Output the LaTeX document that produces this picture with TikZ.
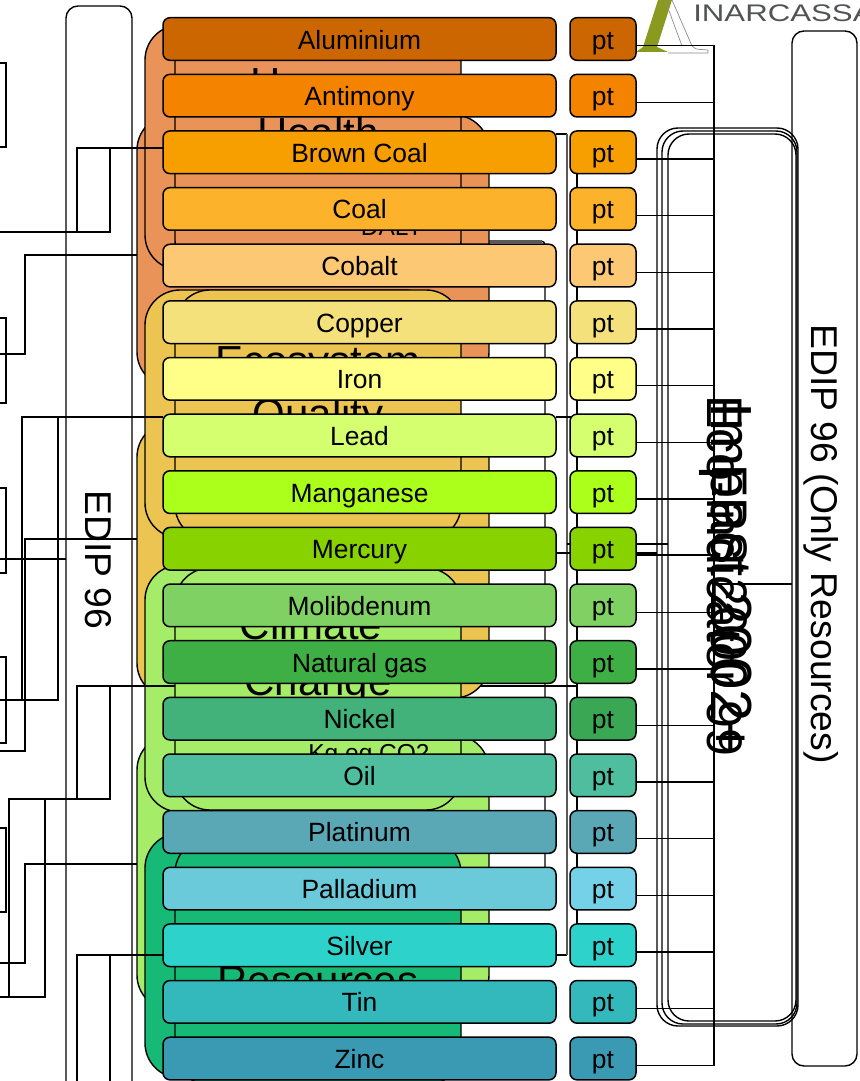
\documentclass[tikz,border=0pt]{standalone}
\usepackage{fontspec}
\setmainfont{Liberation Sans}
\usepackage{xcolor}
\usetikzlibrary{positioning, backgrounds}
\definecolor{humanfill}{HTML}{E99358}
\definecolor{ecofill}{HTML}{ECC452}
\definecolor{climatefill}{HTML}{A5EC68}
\definecolor{resfill}{HTML}{16BA76}
\definecolor{logoolive}{HTML}{8A9A1E}
\definecolor{logotext}{HTML}{525355}
\tikzset{
  link/.style={draw=black, line width=1.4pt},
  tallbox/.style={
    rectangle, rounded corners=12pt, draw=black, line width=1.4pt,
    inner sep=0pt, outer sep=0pt
  },
  methodbox/.style={tallbox, rounded corners=21pt},
  groupbox/.style={tallbox, rounded corners=35pt},
  bigtext/.style={anchor=base, inner sep=0pt, font=\fontsize{42}{50}\selectfont},
  unittext/.style={anchor=base, inner sep=0pt, font=\fontsize{24.5}{30}\selectfont},
  sidetext/.style={anchor=base, inner sep=0pt, rotate=-90, font=\fontsize{37.3}{44}\selectfont},
  labelblock/.style={
    rectangle, rounded corners=7pt, draw=black, line width=1.5pt,
    minimum width=393pt, minimum height=42.64pt, inner sep=0pt, outer sep=0pt,
    text height=22pt, text depth=2pt, font=\fontsize{26.4}{30}\selectfont
  },
  ptblock/.style={labelblock, minimum width=66pt}
}

\begin{document}
\begin{tikzpicture}[x=1pt, y=-1pt, node distance=14pt]
  \clip (0,0) rectangle (859,1081);

  % Logo
  \fill[logoolive] (658,0) -- (672,0) -- (657,47) -- (668,52) -- (636,52) -- (643,47) -- cycle;
  \draw[black!45, line width=0.7pt] (665,0) -- (682,46) (672,0) -- (692,46) .. controls (694,49) .. (708,50) -- (708,53) -- (668,53);
  \node[anchor=base west, inner sep=0pt, xscale=1.3, text=logotext, font=\fontsize{24}{28}\selectfont] (logoname) at (693,22) {INARCASSA};

  % Tall outlines
  \node[tallbox, minimum width=66pt, minimum height=1108pt] (edipAll) at (99,560) {};
  \node[tallbox, minimum width=65pt, minimum height=1035pt] (edipRes) at (824.5,548.5) {};
  \node[methodbox, minimum width=141pt, minimum height=898pt] (ecoBox) at (727.5,577) {};
  \node[methodbox, minimum width=135pt, minimum height=893pt] (impactBox) at (729.5,577.5) {};
  \node[methodbox, minimum width=128pt, minimum height=887pt] (epsBox) at (732,577.5) {};
  \node[tallbox, rounded corners=4pt, minimum width=145pt, minimum height=649pt] (metricBox) at (472.5,565.5) {};
  \draw[black!65, line width=3pt, shorten >=3pt] (metricBox.north west) -- (metricBox.north east);

  % Human Health
  \node[groupbox, fill=humanfill, minimum width=352pt, minimum height=272pt] (humanR) at (313,251) {};
  \node[groupbox, fill=humanfill, minimum width=295pt, minimum height=245pt] (humanP) at (292.5,147.5) {};
  \node[groupbox, fill=humanfill, minimum width=286pt, minimum height=250pt] (humanQ) at (318,150) {};
  \node[bigtext] (humanA) at (318,97) {Human};
  \node[bigtext] (humanB) at (318,147) {Health};
  \node[unittext] (humanU) at (392,235) {DALY};

  % Ecosystem Quality
  \node[groupbox, fill=ecofill, minimum width=352pt, minimum height=276pt] (ecoR) at (313,560) {};
  \node[groupbox, fill=ecofill, minimum width=295pt, minimum height=248pt] (ecoP) at (292.5,414) {};
  \node[groupbox, fill=ecofill, minimum width=286pt, minimum height=250pt] (ecoQ) at (318,415) {};
  \node[bigtext] (ecoA) at (318,375) {Ecosystem};
  \node[bigtext] (ecoB) at (318,428) {Quality};

  % Climate Change
  \node[groupbox, fill=climatefill, minimum width=352pt, minimum height=275pt] (climateR) at (313,872.5) {};
  \node[groupbox, fill=climatefill, minimum width=295pt, minimum height=247pt] (climateP) at (292.5,688.5) {};
  \node[groupbox, fill=climatefill, minimum width=286pt, minimum height=242pt] (climateQ) at (318,689) {};
  \node[bigtext] (climateA) at (311,639) {Climate};
  \node[bigtext] (climateB) at (318,695) {Change};
  \node[unittext] (climateU) at (369,761) {Kg eq CO2};

  % Resources
  \node[groupbox, fill=resfill, minimum width=295pt, minimum height=245pt] (resP) at (292.5,955.5) {};
  \node[groupbox, fill=resfill, minimum width=286pt, minimum height=247pt] (resQ) at (318,961.5) {};
  \node[bigtext] (resA) at (318,995) {Resources};

  % Names
  \node[labelblock, fill={rgb,255:red,204;green,102;blue,0}] (lbAl) at (359.5,39) {Aluminium};
  \node[labelblock, below=of lbAl, fill={rgb,255:red,244;green,131;blue,0}] (lbSb) {Antimony};
  \node[labelblock, below=of lbSb, fill={rgb,255:red,247;green,159;blue,0}] (lbBc) {Brown Coal};
  \node[labelblock, below=of lbBc, fill={rgb,255:red,253;green,178;blue,43}] (lbCo) {Coal};
  \node[labelblock, below=of lbCo, fill={rgb,255:red,253;green,200;blue,115}] (lbCb) {Cobalt};
  \node[labelblock, below=of lbCb, fill={rgb,255:red,245;green,225;blue,124}] (lbCu) {Copper};
  \node[labelblock, below=of lbCu, fill={rgb,255:red,255;green,255;blue,136}] (lbFe) {Iron};
  \node[labelblock, below=of lbFe, fill={rgb,255:red,213;green,255;blue,110}] (lbPb) {Lead};
  \node[labelblock, below=of lbPb, fill={rgb,255:red,171;green,255;blue,26}] (lbMn) {Manganese};
  \node[labelblock, below=of lbMn, fill={rgb,255:red,136;green,210;blue,0}] (lbHg) {Mercury};
  \node[labelblock, below=of lbHg, fill={rgb,255:red,127;green,209;blue,99}] (lbMo) {Molibdenum};
  \node[labelblock, below=of lbMo, fill={rgb,255:red,62;green,175;blue,69}] (lbGas) {Natural gas};
  \node[labelblock, below=of lbGas, fill={rgb,255:red,66;green,178;blue,122}] (lbNi) {Nickel};
  \node[labelblock, below=of lbNi, fill={rgb,255:red,79;green,190;blue,159}] (lbOil) {Oil};
  \node[labelblock, below=of lbOil, fill={rgb,255:red,90;green,167;blue,181}] (lbPt) {Platinum};
  \node[labelblock, below=of lbPt, fill={rgb,255:red,107;green,202;blue,217}] (lbPd) {Palladium};
  \node[labelblock, below=of lbPd, fill={rgb,255:red,45;green,211;blue,203}] (lbAg) {Silver};
  \node[labelblock, below=of lbAg, fill={rgb,255:red,51;green,185;blue,188}] (lbSn) {Tin};
  \node[labelblock, below=of lbSn, fill={rgb,255:red,58;green,154;blue,179}] (lbZn) {Zinc};

  % Units
  \node[ptblock, right=of lbAl, fill={rgb,255:red,204;green,102;blue,0}] (ptAl) {pt};
  \node[ptblock, right=of lbSb, fill={rgb,255:red,244;green,131;blue,0}] (ptSb) {pt};
  \node[ptblock, right=of lbBc, fill={rgb,255:red,247;green,159;blue,0}] (ptBc) {pt};
  \node[ptblock, right=of lbCo, fill={rgb,255:red,253;green,178;blue,43}] (ptCo) {pt};
  \node[ptblock, right=of lbCb, fill={rgb,255:red,253;green,200;blue,115}] (ptCb) {pt};
  \node[ptblock, right=of lbCu, fill={rgb,255:red,245;green,225;blue,124}] (ptCu) {pt};
  \node[ptblock, right=of lbFe, fill={rgb,255:red,255;green,255;blue,136}] (ptFe) {pt};
  \node[ptblock, right=of lbPb, fill={rgb,255:red,213;green,255;blue,110}] (ptPb) {pt};
  \node[ptblock, right=of lbMn, fill={rgb,255:red,171;green,255;blue,26}] (ptMn) {pt};
  \node[ptblock, right=of lbHg, fill={rgb,255:red,136;green,210;blue,0}] (ptHg) {pt};
  \node[ptblock, right=of lbMo, fill={rgb,255:red,127;green,209;blue,99}] (ptMo) {pt};
  \node[ptblock, right=of lbGas, fill={rgb,255:red,62;green,175;blue,69}] (ptGas) {pt};
  \node[ptblock, right=of lbNi, fill={rgb,255:red,58;green,167;blue,85}] (ptNi) {pt};
  \node[ptblock, right=of lbOil, fill={rgb,255:red,79;green,190;blue,159}] (ptOil) {pt};
  \node[ptblock, right=of lbPt, fill={rgb,255:red,90;green,167;blue,181}] (ptPt) {pt};
  \node[ptblock, right=of lbPd, fill={rgb,255:red,117;green,209;blue,232}] (ptPd) {pt};
  \node[ptblock, right=of lbAg, fill={rgb,255:red,45;green,211;blue,203}] (ptAg) {pt};
  \node[ptblock, right=of lbSn, fill={rgb,255:red,51;green,185;blue,188}] (ptSn) {pt};
  \node[ptblock, right=of lbZn, fill={rgb,255:red,58;green,154;blue,179}] (ptZn) {pt};

  % Free ends on the left
  \coordinate (a0) at (0,232);
  \coordinate (a1) at (77,148);
  \coordinate (a2) at (110,148);
  \coordinate (b0) at (0,354);
  \coordinate (b1) at (25,255);
  \coordinate (c0) at (0,700);
  \coordinate (c1) at (22,417);
  \coordinate (c2) at (58,417);
  \coordinate (d0) at (0,751);
  \coordinate (d1) at (25,539);
  \coordinate (e0) at (0,997);
  \coordinate (e1) at (9,799);
  \coordinate (e2) at (45,799);
  \coordinate (e3) at (77,686);
  \coordinate (e4) at (110,686);
  \coordinate (f0) at (0,963);
  \coordinate (f1) at (25,864);
  \coordinate (g1) at (77,955);
  \coordinate (g2) at (110,955);
  \coordinate (g0) at (0,1090);

  % Brackets at the border
  \draw[link] (0,63) -- (6,63) -- (6,147) -- (0,147);
  \draw[link] (0,318) -- (6,318) -- (6,403) -- (0,403);
  \draw[link] (0,488) -- (6,488) -- (6,573) -- (0,573);
  \draw[link] (0,657) -- (6,657) -- (6,743) -- (0,743);
  \draw[link] (0,828) -- (6,828) -- (6,912) -- (0,912);

  \draw[link] (a0) -| (a1) -- (a2) |- (a0);
  \draw[link] (a2) -- (lbBc.west |- a2);
  \draw[link] (b0) -| (b1) -- (humanR.west |- b1);
  \draw[link] (c0) -| (c1) -- (c2) |- (c0);
  \draw[link] (c2) -- (lbPb.west |- c2);
  \draw[link] (d0) -| (d1) -- (ecoR.west |- d1);
  \draw[link] (0,559) -- (edipAll.west |- 0,559);
  \draw[link] (e0) -| (e1) -- (e2) |- (e0);
  \draw[link] (e1) -- (e4 |- e1) -- (e4) -- (e3) -- (e3 |- e1);
  \draw[link] (e4) -- (climateQ.west |- e4);
  \draw[link] (f0) -| (f1) -- (climateR.west |- f1);
  \draw[link] (g1 |- g0) -- (g1) -- (g2) -- (g2 |- g0);
  \draw[link] (g2) -- (lbAg.west |- g2);

  % Connectors under the rows
  \coordinate (coreA) at (566.5,134);
  \coordinate (coreB) at (566.5,955);
  \coordinate (feedA) at (577,160);
  \coordinate (feedB) at (577,940);
  \coordinate (feedC) at (461,686);
  \begin{scope}[on background layer]
    \draw[link] (lbBc.east |- coreA) -- (coreA);
    \draw[link] (lbAg.east |- coreB) -- (coreB);
    \draw[black!65, line width=2pt] (coreA) -- (coreB);
    \draw[link] (feedA) -- (feedB);
    \draw[link] (feedC) -- (feedA |- feedC);
    \draw[link] (lbPb.east |- 0,417) -- (feedA |- 0,417);
    \draw[link] (coreA |- 0,544) -- (epsBox.west |- 0,544);
    \draw[link] (lbHg.east |- 0,553) -- (ecoBox.west |- 0,553);
  \end{scope}

  % Bus to the right
  \draw[link] ([yshift=-6.8pt]ptAl.east) -| ([yshift=-6.8pt, xshift=78pt]ptZn.east) -- ([yshift=-6.8pt]ptZn.east);
  \draw[link] ([yshift=-6.8pt]ptSb.east) -- ++(78,0);
  \draw[link] ([yshift=-6.8pt]ptBc.east) -- ++(78,0);
  \draw[link] ([yshift=-6.8pt]ptCo.east) -- ++(78,0);
  \draw[link] ([yshift=-6.8pt]ptCb.east) -- ++(78,0);
  \draw[link] ([yshift=-6.8pt]ptCu.east) -- ++(78,0);
  \draw[link] ([yshift=-6.8pt]ptFe.east) -- ++(78,0);
  \draw[link] ([yshift=-6.8pt]ptPb.east) -- ++(78,0);
  \draw[link] ([yshift=-6.8pt]ptMn.east) -- ++(78,0);
  \draw[link] ([yshift=-6.2pt]ptHg.east) -- ++(78,0);
  \draw[link] ([yshift=-6.8pt]ptMo.east) -- ++(78,0);
  \draw[link] ([yshift=-6.8pt]ptGas.east) -- ++(78,0);
  \draw[link] ([yshift=-6.8pt]ptNi.east) -- ++(78,0);
  \draw[link] ([yshift=-6.8pt]ptOil.east) -- ++(78,0);
  \draw[link] ([yshift=-6.8pt]ptPt.east) -- ++(78,0);
  \draw[link] ([yshift=-6.8pt]ptPd.east) -- ++(78,0);
  \draw[link] ([yshift=-6.8pt]ptAg.east) -- ++(78,0);
  \draw[link] ([yshift=-6.8pt]ptSn.east) -- ++(78,0);
  \draw[link] (714,584) -- (edipRes.west |- 714,584);

  % Method names
  \node[sidetext] (edipAllName) at (85,560) {EDIP 96};
  \node[sidetext] (edipResName) at (811,544) {EDIP 96 (Only Resources)};
  \node[sidetext, font=\fontsize{50}{60}\selectfont] (ecoName) at (707,576) {Eco-indicator 99};
  \node[sidetext, font=\fontsize{58}{70}\selectfont] (impactName) at (711,579) {Impact 2002+};
  \node[sidetext, font=\fontsize{50}{60}\selectfont] (epsName) at (712,577) {EPS 2000};
\end{tikzpicture}
\end{document}
